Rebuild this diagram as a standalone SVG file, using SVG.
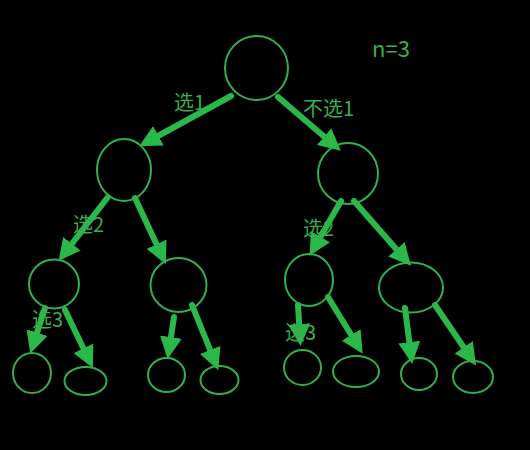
<svg xmlns="http://www.w3.org/2000/svg" width="530" height="450" viewBox="0 0 530 450">
<defs>
<marker id="ah" markerUnits="userSpaceOnUse" markerWidth="22" markerHeight="22" refX="13" refY="11" orient="auto" viewBox="0 0 22 22">
<path d="M0,0 L22,11 L0,22 z" fill="#2bb84a"/>
</marker>
<style>
.n{fill:none;stroke:#2fb14d;stroke-width:2}
.e{stroke:#2bb84a;stroke-width:6;stroke-linecap:round;fill:none;marker-end:url(#ah)}
.t{fill:#3aad4c;font-family:"Noto Sans CJK SC","Noto Sans",sans-serif;font-size:20px}
</style>
</defs>
<rect width="530" height="450" fill="#000"/>
<g id="connectors">
<line class="e" x1="231" y1="96" x2="147" y2="142"/>
<line class="e" x1="278" y1="97" x2="334" y2="145"/>
<line class="e" x1="108" y1="197" x2="64" y2="254"/>
<line class="e" x1="135" y1="198" x2="162" y2="256"/>
<line class="e" x1="341" y1="201" x2="314" y2="248"/>
<line class="e" x1="354" y1="201" x2="405" y2="259"/>
<line class="e" x1="45" y1="308" x2="33" y2="345"/>
<line class="e" x1="65" y1="310" x2="89" y2="360"/>
<line class="e" x1="174" y1="317" x2="169" y2="350"/>
<line class="e" x1="192" y1="305" x2="215" y2="362"/>
<line class="e" x1="298" y1="305" x2="300" y2="337"/>
<line class="e" x1="328" y1="297" x2="358" y2="346"/>
<line class="e" x1="405" y1="308" x2="411" y2="355"/>
<line class="e" x1="435" y1="305" x2="471" y2="358"/>
</g>
<g id="root"><ellipse class="n" cx="256.5" cy="68" rx="31.5" ry="32"/></g>
<g id="l1"><ellipse class="n" cx="124" cy="170" rx="27" ry="31"/></g>
<g id="r1"><ellipse class="n" cx="348" cy="173.5" rx="30" ry="30.5"/></g>
<g id="ll"><ellipse class="n" cx="54" cy="284" rx="25" ry="24.5"/></g>
<g id="lr"><ellipse class="n" cx="178.5" cy="285" rx="28" ry="27"/></g>
<g id="rl"><ellipse class="n" cx="309" cy="280" rx="24" ry="26"/></g>
<g id="rr"><ellipse class="n" cx="411" cy="287.5" rx="32" ry="25"/></g>
<g id="lll"><ellipse class="n" cx="32" cy="373" rx="19" ry="20"/></g>
<g id="llr"><ellipse class="n" cx="85.5" cy="381" rx="21" ry="14"/></g>
<g id="lrl"><ellipse class="n" cx="166.5" cy="375" rx="18.5" ry="17"/></g>
<g id="lrr"><ellipse class="n" cx="219.5" cy="380" rx="19" ry="14"/></g>
<g id="rll"><ellipse class="n" cx="302.5" cy="367.5" rx="18.5" ry="17.5"/></g>
<g id="rlr"><ellipse class="n" cx="356" cy="371.5" rx="23" ry="15.5"/></g>
<g id="rrl"><ellipse class="n" cx="419" cy="374" rx="18" ry="16"/></g>
<g id="rrr"><ellipse class="n" cx="473" cy="377" rx="20" ry="16"/></g>
<g id="labels">
<text class="t" x="174" y="110">选1</text>
<text class="t" x="303" y="116">不选1</text>
<text class="t" x="73" y="232">选2</text>
<text class="t" x="303" y="236">选2</text>
<text class="t" x="32" y="327">选3</text>
<text class="t" x="285" y="340">选3</text>
<text class="t" x="372" y="57" style="font-size:22px">n=3</text>
</g>
</svg>
